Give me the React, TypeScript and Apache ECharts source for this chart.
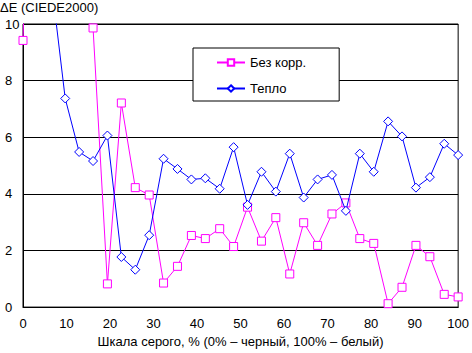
import React, { useEffect, useRef } from "react";
import * as echarts from "echarts";

const grayLevels = [0, 3.2, 6.5, 9.7, 12.9, 16.1, 19.4, 22.6, 25.8, 29.0, 32.3, 35.5, 38.7, 41.9, 45.2, 48.4, 51.6, 54.8, 58.1, 61.3, 64.5, 67.7, 71.0, 74.2, 77.4, 80.6, 83.9, 87.1, 90.3, 93.5, 96.8, 100];
const noCorrection = [9.42, 25, 22, 18, 10.6, 9.86, 0.82, 7.21, 4.22, 3.96, 0.85, 1.44, 2.53, 2.42, 2.77, 2.14, 3.53, 2.33, 3.16, 1.17, 2.98, 2.18, 3.29, 3.68, 2.42, 2.25, 0.12, 0.7, 2.18, 1.78, 0.45, 0.36];
const warm = [15, 13, 11.5, 7.37, 5.48, 5.16, 6.06, 1.77, 1.32, 2.54, 5.24, 4.88, 4.51, 4.55, 4.18, 5.65, 3.61, 4.78, 4.08, 5.42, 3.87, 4.51, 4.67, 3.4, 5.42, 4.78, 6.56, 6.03, 4.22, 4.59, 5.77, 5.37];
const seriesNames = ["Без корр.", "Тепло"];
const titleText = "ΔE (CIEDE2000)";
const xAxisName = "Шкала серого, % (0% – черный, 100% – белый)";

const FONT = "Arial, 'Liberation Sans', sans-serif";

export default function App() {
  const ref = useRef<HTMLDivElement>(null);
  useEffect(() => {
    if (!ref.current) return;
    const chart = echarts.init(ref.current, null, { renderer: "svg" });
    const pair = (ys: number[]) => grayLevels.map((x, i) => [x, ys[i]]);
    chart.setOption({
      animation: false,
      backgroundColor: "#fff",
      textStyle: { fontFamily: FONT },
      title: {
        text: titleText,
        left: 0,
        top: 1,
        padding: 0,
        textStyle: { fontFamily: FONT, fontSize: 13, fontWeight: "normal", color: "#000" },
      },
      legend: {
        orient: "vertical",
        left: 193,
        top: 48,
        padding: [8, 33, 6, 23],
        itemWidth: 28,
        itemHeight: 8,
        itemGap: 13,
        borderColor: "#000",
        borderWidth: 1,
        backgroundColor: "#fff",
        textStyle: { fontFamily: FONT, fontSize: 13, color: "#000" },
        data: seriesNames,
      },
      grid: {
        left: 23,
        right: 10,
        top: 24,
        bottom: 43,
        show: true,
        borderColor: "#000",
        borderWidth: 1,
      },
      xAxis: {
        type: "value",
        min: 0,
        max: 100,
        interval: 10,
        name: xAxisName,
        nameLocation: "middle",
        nameGap: 27,
        nameTextStyle: { fontFamily: FONT, fontSize: 13, color: "#000" },
        axisLine: { lineStyle: { color: "#000", width: 1 } },
        axisTick: { show: false },
        splitLine: { show: false },
        axisLabel: { margin: 10, fontFamily: FONT, fontSize: 13, color: "#000" },
      },
      yAxis: {
        type: "value",
        min: 0,
        max: 10,
        interval: 2,
        axisLine: { show: true, lineStyle: { color: "#000", width: 1 } },
        axisTick: { show: false },
        splitLine: { show: true, lineStyle: { color: "#000", width: 1 } },
        axisLabel: { margin: 18, align: "left", fontFamily: FONT, fontSize: 13, color: "#000" },
      },
      series: [
        {
          name: seriesNames[0],
          type: "line",
          data: pair(noCorrection),
          symbol: "rect",
          symbolSize: 8,
          showAllSymbol: true,
          clip: true,
          lineStyle: { color: "#ff00ff", width: 1 },
          itemStyle: { color: "#fff", borderColor: "#ff00ff", borderWidth: 1 },
          z: 2,
        },
        {
          name: seriesNames[1],
          type: "line",
          data: pair(warm),
          symbol: "diamond",
          symbolSize: 9,
          showAllSymbol: true,
          clip: true,
          lineStyle: { color: "#0000ff", width: 1 },
          itemStyle: { color: "#fff", borderColor: "#0000ff", borderWidth: 1 },
          z: 3,
        },
      ],
    });
    return () => chart.dispose();
  }, []);
  return (
    <div
      ref={ref}
      style={{ position: "fixed", left: 0, top: 0, width: 472, height: 353 }}
    />
  );
}
